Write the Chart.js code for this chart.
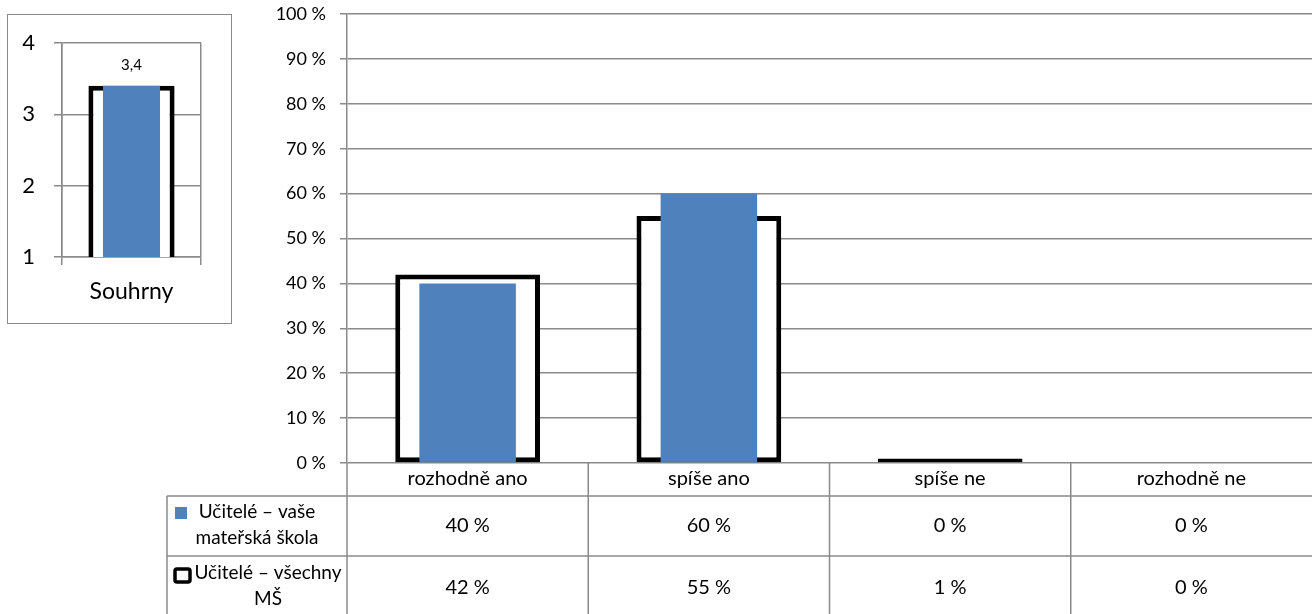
<!DOCTYPE html>
<html lang="cs">
<head>
    <meta charset="UTF-8" />
    <title>Učitelé – souhrn</title>
    <script src="https://cdn.jsdelivr.net/npm/chart.js@4.4.0/dist/chart.umd.min.js"></script>
    <style>
        body { margin: 0; background: #fff; }
        #wrap { position: relative; width: 1312px; height: 614px; }
        #mainChart { position: absolute; left: 0; top: 0; }
        #insetBox { position: absolute; left: 7px; top: 14px; width: 225px; height: 310px;
                    box-sizing: border-box; border: 1px solid #8a8a8a; background: #fff; }
        #insetChart { position: absolute; left: 0; top: 0; }
    </style>
</head>
<body>
    <div id="wrap">
        <canvas id="mainChart" width="1312" height="614"></canvas>
        <div id="insetBox">
            <canvas id="insetChart" width="223" height="308"></canvas>
        </div>
    </div>

    <script>
        // data
        const categories = ['rozhodně ano', 'spíše ano', 'spíše ne', 'rozhodně ne'];
        const vaseMS = [40, 60, 0, 0];
        const vsechnyMS = [42, 55, 1, 0];
        const seriesLines = [['Učitelé – vaše', 'mateřská škola'], ['Učitelé – všechny', 'MŠ']];

        const summaryLabels = ['Souhrny'];
        const summaryVase = [3.4];
        const summaryVsechny = [3.4];

        const BLUE = '#4f81bd';
        const GRID = '#8a8a8a';
        const FONT = 'Lato';

        // tabulka pod grafem
        const tablePlugin = {
            id: 'dataTable',
            afterDraw(chart) {
                const ctx = chart.ctx;
                const area = chart.chartArea;
                const xs = chart.scales.x;
                const colW = (area.right - area.left) / categories.length;
                const left = 167, row1 = 496, row2 = 556, bottom = chart.height;

                ctx.save();
                ctx.strokeStyle = GRID;
                ctx.lineWidth = 1.5;
                ctx.beginPath();
                ctx.moveTo(left, row1); ctx.lineTo(area.right, row1);
                ctx.moveTo(left, row2); ctx.lineTo(area.right, row2);
                ctx.moveTo(left, row1); ctx.lineTo(left, bottom);
                for (let i = 0; i < categories.length; i++) {
                    const x = area.left + i * colW;
                    ctx.moveTo(x, area.bottom); ctx.lineTo(x, bottom);
                }
                ctx.stroke();

                ctx.fillStyle = '#000';
                ctx.font = '20px ' + FONT;
                ctx.textAlign = 'center';
                ctx.textBaseline = 'middle';
                categories.forEach((c, i) => {
                    const cx = xs.getPixelForValue(i);
                    ctx.fillText(c, cx, 479);
                    ctx.fillText(vaseMS[i] + ' %', cx, 526);
                    ctx.fillText(vsechnyMS[i] + ' %', cx, 588);
                });

                // legenda v tabulce
                ctx.fillStyle = BLUE;
                ctx.fillRect(175, 507, 12, 12);
                ctx.strokeStyle = '#000';
                ctx.lineWidth = 3.5;
                ctx.beginPath();
                ctx.roundRect(175, 569, 15, 13, 2);
                ctx.stroke();

                ctx.fillStyle = '#000';
                ctx.font = '19px ' + FONT;
                ctx.fillText(seriesLines[0][0], 257, 512);
                ctx.fillText(seriesLines[0][1], 257, 538);
                ctx.fillText(seriesLines[1][0], 268, 573);
                ctx.fillText(seriesLines[1][1], 268, 599);
                ctx.restore();
            }
        };

        new Chart(document.getElementById('mainChart'), {
            type: 'bar',
            data: {
                labels: categories,
                datasets: [{
                    label: seriesLines[0].join(' '),
                    data: vaseMS,
                    backgroundColor: BLUE,
                    grouped: false,
                    categoryPercentage: 1,
                    barPercentage: 0.4
                }, {
                    label: seriesLines[1].join(' '),
                    data: vsechnyMS,
                    backgroundColor: '#fff',
                    borderColor: '#000',
                    borderWidth: 5,
                    borderSkipped: false,
                    grouped: false,
                    categoryPercentage: 1,
                    barPercentage: 0.6
                }]
            },
            options: {
                responsive: false,
                animation: false,
                devicePixelRatio: 1,
                layout: { padding: { left: 0, top: 14, right: 0, bottom: 151 } },
                plugins: { legend: { display: false }, tooltip: { enabled: false } },
                scales: {
                    x: { display: false },
                    y: {
                        min: 0, max: 100,
                        afterFit(scale) {
                            scale.width = 347;
                            scale.paddingTop = 0;
                            scale.paddingBottom = 0;
                        },
                        border: { color: GRID, width: 1.5 },
                        grid: { color: GRID, lineWidth: 1.5, tickLength: 7 },
                        ticks: {
                            stepSize: 10, padding: 14, color: '#000',
                            font: { family: FONT, size: 18 },
                            callback: v => v + ' %'
                        }
                    }
                }
            },
            plugins: [tablePlugin]
        });

        // popisek hodnoty nad sloupcem
        const valueLabel = {
            id: 'valueLabel',
            afterDatasetsDraw(chart) {
                const ctx = chart.ctx;
                const meta = chart.getDatasetMeta(1);
                ctx.save();
                ctx.fillStyle = '#000';
                ctx.font = '15px ' + FONT;
                ctx.textAlign = 'center';
                ctx.textBaseline = 'middle';
                meta.data.forEach((bar, i) => {
                    ctx.fillText(String(summaryVsechny[i]).replace('.', ','), bar.x, bar.y - 21);
                });
                ctx.restore();
            }
        };

        new Chart(document.getElementById('insetChart'), {
            type: 'bar',
            data: {
                labels: summaryLabels,
                datasets: [{
                    data: summaryVase,
                    backgroundColor: BLUE,
                    grouped: false,
                    categoryPercentage: 1,
                    barPercentage: 0.41
                }, {
                    data: summaryVsechny,
                    backgroundColor: '#fff',
                    borderColor: '#000',
                    borderWidth: 5,
                    borderSkipped: false,
                    grouped: false,
                    categoryPercentage: 1,
                    barPercentage: 0.62
                }]
            },
            options: {
                responsive: false,
                animation: false,
                devicePixelRatio: 1,
                layout: { padding: { left: 0, top: 28, right: 30, bottom: 0 } },
                plugins: { legend: { display: false }, tooltip: { enabled: false } },
                scales: {
                    x: {
                        afterFit(scale) {
                            scale.height = 66;
                            scale.paddingLeft = 0;
                            scale.paddingRight = 0;
                        },
                        border: { color: GRID, width: 1.5 },
                        grid: { color: GRID, lineWidth: 1.5, tickLength: 8 },
                        ticks: { padding: 13, color: '#000', font: { family: FONT, size: 23 } }
                    },
                    y: {
                        min: 1, max: 4,
                        afterFit(scale) {
                            scale.width = 54;
                            scale.paddingTop = 0;
                            scale.paddingBottom = 0;
                        },
                        border: { color: GRID, width: 1.5 },
                        grid: { color: GRID, lineWidth: 1.5, tickLength: 8 },
                        ticks: { stepSize: 1, padding: 19, color: '#000', font: { family: FONT, size: 22 } }
                    }
                }
            },
            plugins: [valueLabel]
        });
    </script>
</body>
</html>
